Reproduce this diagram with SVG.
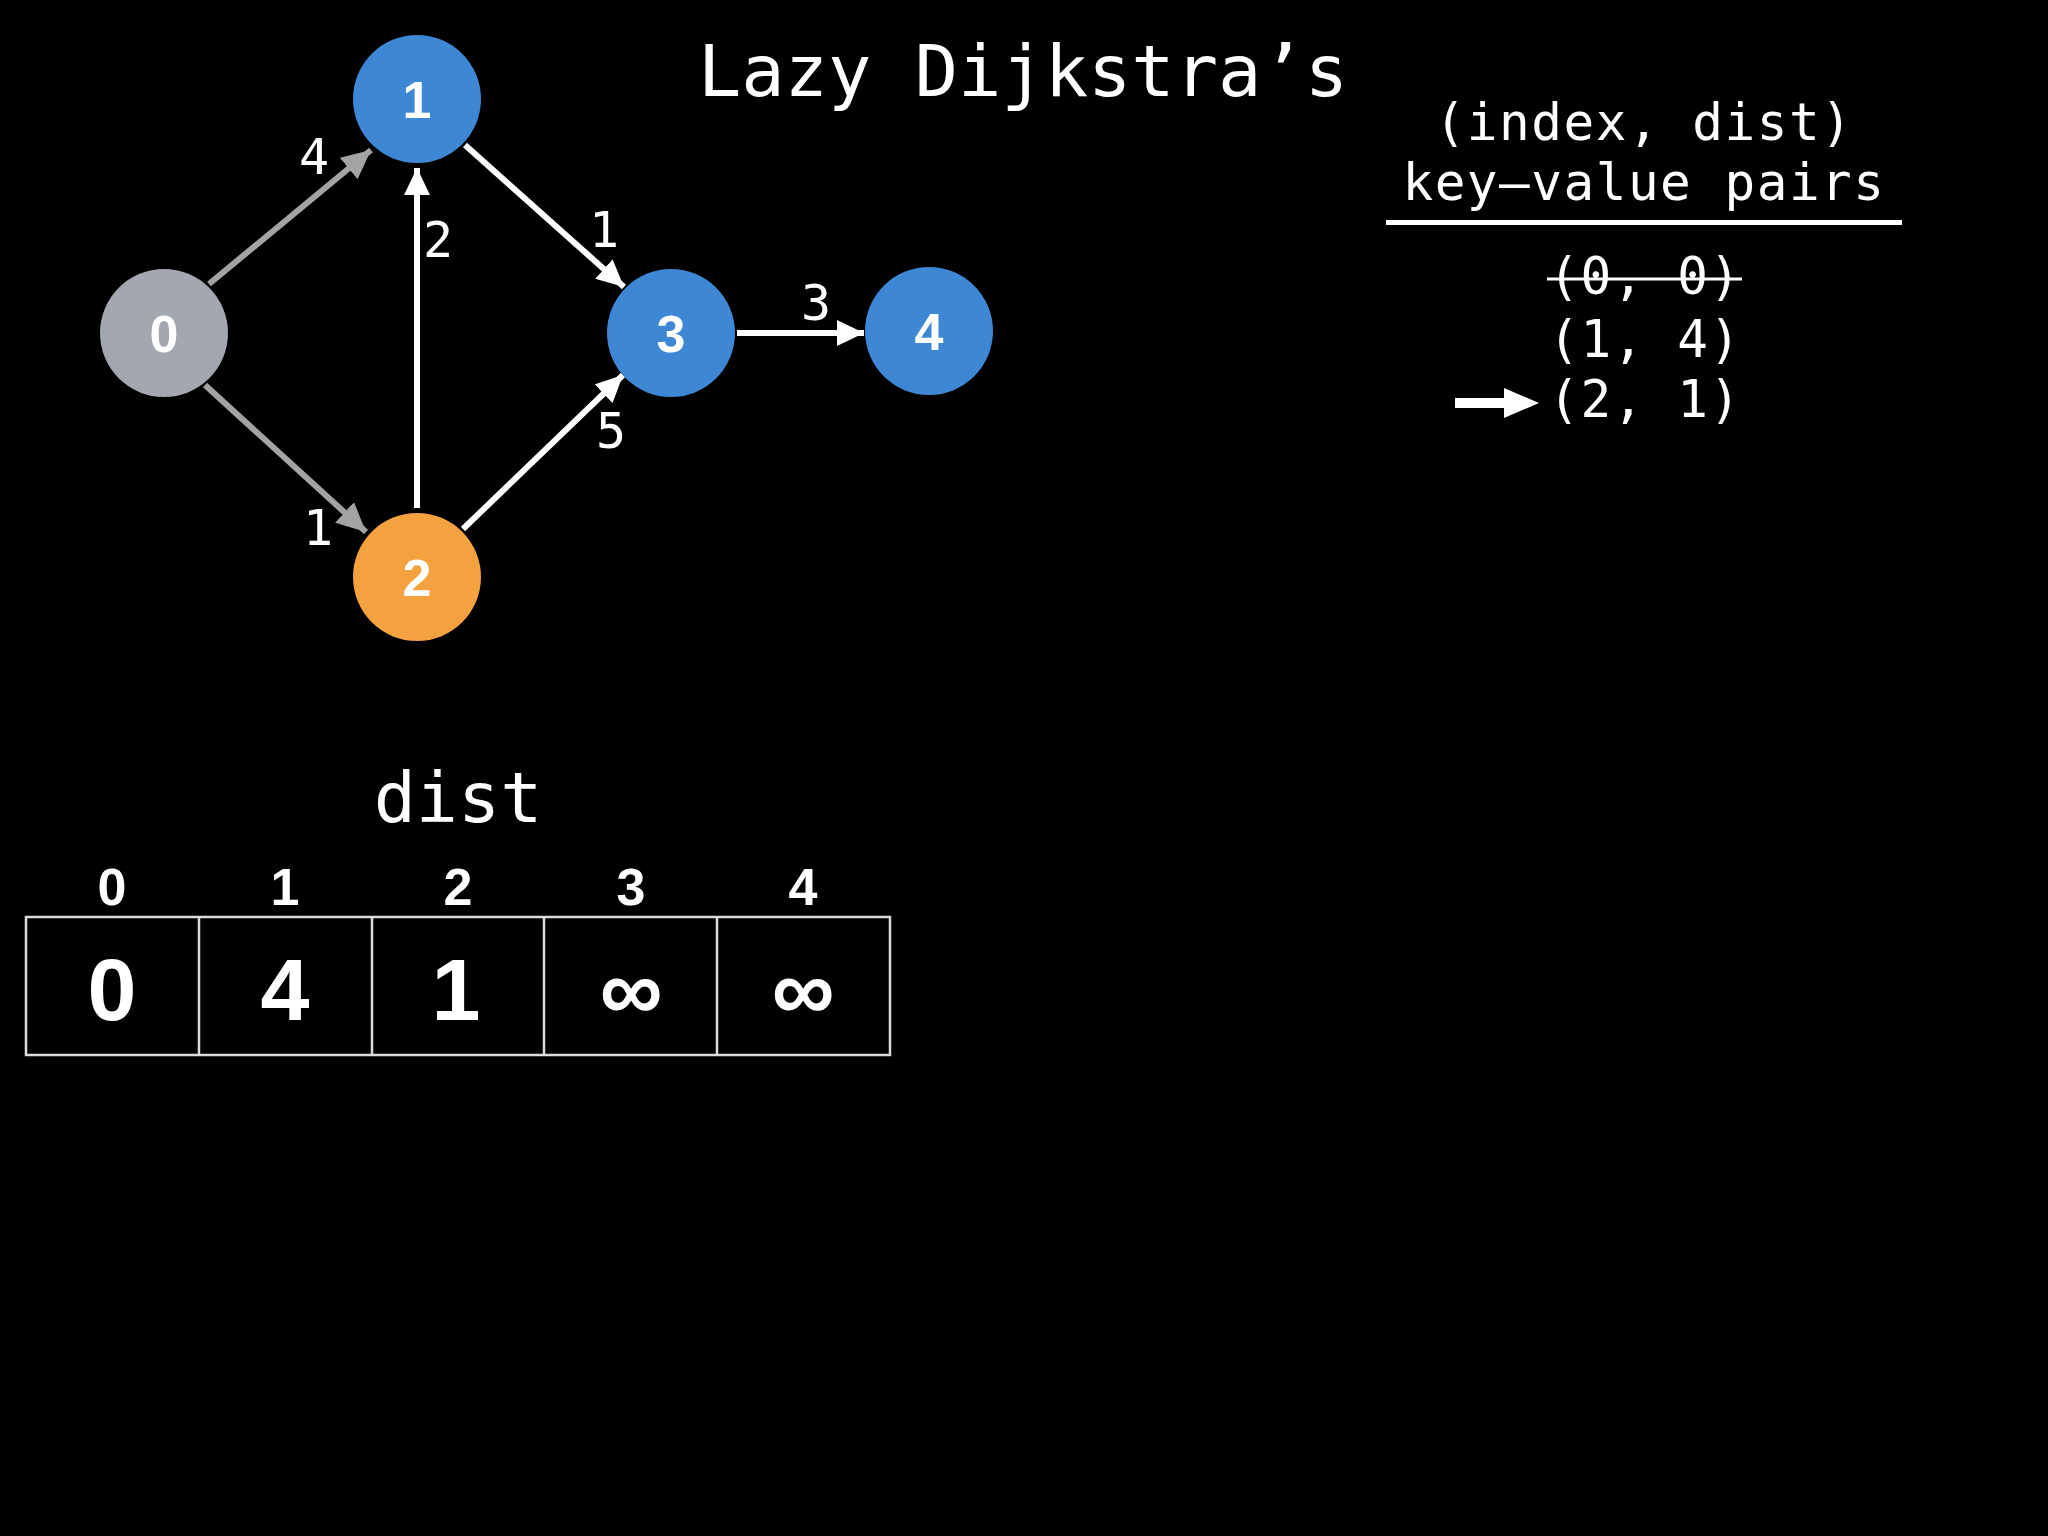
<svg xmlns="http://www.w3.org/2000/svg" width="2048" height="1536" viewBox="0 0 2048 1536">
  <style>
    .mono { font-family: "DejaVu Sans Mono", "Liberation Mono", monospace; fill: #ffffff; }
    .bold { font-family: "Liberation Sans", Arial, sans-serif; font-weight: bold; fill: #ffffff; text-anchor: middle; }
    .node-label { font-size: 52px; }
    .edge { stroke-width: 6; fill: none; }
    .white { stroke: #ffffff; }
    .gray { stroke: #a3a3a3; }
    .elabel { font-size: 50px; text-anchor: middle; }
    .pair { font-size: 51px; text-anchor: middle; letter-spacing: 1.5px; }
    .cell { fill: none; stroke: #dcdcdc; stroke-width: 2.5; }
  </style>
  <defs>
    <marker id="ahWhite" markerUnits="userSpaceOnUse" markerWidth="28" markerHeight="26" refX="27" refY="13" orient="auto">
      <path d="M0,0 L27,13 L0,26 Z" fill="#ffffff"/>
    </marker>
    <marker id="ahGray" markerUnits="userSpaceOnUse" markerWidth="30" markerHeight="28" refX="29" refY="14" orient="auto">
      <path d="M0,0 L29,14 L0,28 Z" fill="#a3a3a3"/>
    </marker>
  </defs>
  <rect x="0" y="0" width="2048" height="1536" fill="#000000"/>

  <text class="mono" x="1023" y="96" font-size="72" text-anchor="middle">Lazy Dijkstra’s</text>

  <g id="connectors">
    <line class="edge gray" x1="209" y1="284" x2="371" y2="150" marker-end="url(#ahGray)"/>
    <line class="edge gray" x1="205" y1="385" x2="366" y2="532" marker-end="url(#ahGray)"/>
    <line class="edge white" x1="417" y1="508" x2="417" y2="168" marker-end="url(#ahWhite)"/>
    <line class="edge white" x1="465" y1="145" x2="624" y2="287" marker-end="url(#ahWhite)"/>
    <line class="edge white" x1="463" y1="529" x2="623" y2="375" marker-end="url(#ahWhite)"/>
    <line class="edge white" x1="737" y1="333" x2="864" y2="333" marker-end="url(#ahWhite)"/>
    <text class="mono elabel" x="314" y="174">4</text>
    <text class="mono elabel" x="438" y="257">2</text>
    <text class="mono elabel" x="604" y="247">1</text>
    <text class="mono elabel" x="816" y="320">3</text>
    <text class="mono elabel" x="611" y="448">5</text>
    <text class="mono elabel" x="318" y="545">1</text>
  </g>

  <g id="node0">
    <circle cx="164" cy="333" r="64" fill="#a3a8b0"/>
    <text class="bold node-label" x="164" y="352">0</text>
  </g>
  <g id="node1">
    <circle cx="417" cy="99" r="64" fill="#3d87d5"/>
    <text class="bold node-label" x="417" y="118">1</text>
  </g>
  <g id="node2">
    <circle cx="417" cy="577" r="64" fill="#f4a23f"/>
    <text class="bold node-label" x="417" y="596">2</text>
  </g>
  <g id="node3">
    <circle cx="671" cy="333" r="64" fill="#3d87d5"/>
    <text class="bold node-label" x="671" y="352">3</text>
  </g>
  <g id="node4">
    <circle cx="929" cy="331" r="64" fill="#3d87d5"/>
    <text class="bold node-label" x="929" y="350">4</text>
  </g>

  <g id="pq">
    <text class="mono pair" x="1644" y="140">(index, dist)</text>
    <text class="mono pair" x="1644" y="200">key–value pairs</text>
    <rect x="1386" y="220" width="516" height="5" fill="#ffffff"/>
    <text class="mono pair" x="1645" y="294">(0, 0)</text>
    <line x1="1547" y1="279" x2="1742" y2="279" stroke="#ffffff" stroke-width="3"/>
    <text class="mono pair" x="1645" y="357">(1, 4)</text>
    <text class="mono pair" x="1645" y="417">(2, 1)</text>
    <path d="M1455,398 L1504,398 L1504,388 L1539,403 L1504,418 L1504,408 L1455,408 Z" fill="#ffffff"/>
  </g>

  <g id="dist-table">
    <text class="mono" x="458" y="822" font-size="70" text-anchor="middle">dist</text>
    <text class="bold" x="112" y="905" font-size="52">0</text>
    <text class="bold" x="285" y="905" font-size="52">1</text>
    <text class="bold" x="458" y="905" font-size="52">2</text>
    <text class="bold" x="631" y="905" font-size="52">3</text>
    <text class="bold" x="803" y="905" font-size="52">4</text>
    <rect class="cell" x="26" y="917" width="864" height="138"/>
    <line class="cell" x1="199" y1="917" x2="199" y2="1055"/>
    <line class="cell" x1="372" y1="917" x2="372" y2="1055"/>
    <line class="cell" x1="544" y1="917" x2="544" y2="1055"/>
    <line class="cell" x1="717" y1="917" x2="717" y2="1055"/>
    <text class="bold" x="112" y="1020" font-size="88">0</text>
    <text class="bold" x="285" y="1020" font-size="88">4</text>
    <text class="bold" x="456" y="1020" font-size="88">1</text>
    <text class="bold" x="631" y="1020" font-size="88">∞</text>
    <text class="bold" x="803" y="1020" font-size="88">∞</text>
  </g>
</svg>
